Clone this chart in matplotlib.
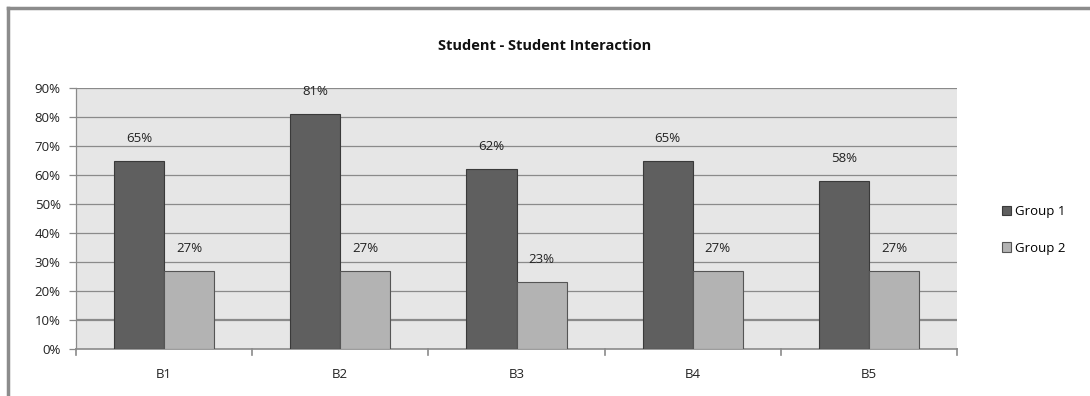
import numpy as np
import matplotlib.pyplot as plt
from matplotlib.patches import Rectangle
from matplotlib.lines import Line2D

categories = ['B1', 'B2', 'B3', 'B4', 'B5']
group1 = [65, 81, 62, 65, 58]
group2 = [27, 27, 23, 27, 27]
series_names = ['Group 1', 'Group 2']
yticks = [0, 10, 20, 30, 40, 50, 60, 70, 80, 90]

plt.rcParams['font.family'] = ['Open Sans', 'DejaVu Sans']

fig = plt.figure(figsize=(10.9, 3.96), dpi=100)
ax = fig.add_axes([76/1090, 1-349/396, 881/1090, 261/396])

# outer frame lines (top and left)
fig.add_artist(Line2D([8/1090, 1], [1-8/396, 1-8/396], color='#8c8c8c', lw=2.5,
                      transform=fig.transFigure))
fig.add_artist(Line2D([8/1090, 8/1090], [0, 1-8/396], color='#8c8c8c', lw=2.5,
                      transform=fig.transFigure))

x = np.arange(len(categories))
w = 0.284
dark, light = '#5f5f5f', '#b3b3b3'
b1 = ax.bar(x - w/2, group1, w, color=dark, edgecolor='#3a3a3a', lw=0.8, zorder=3)
b2 = ax.bar(x + w/2, group2, w, color=light, edgecolor='#555555', lw=0.8, zorder=3)

for bars, vals in ((b1, group1), (b2, group2)):
    for r, v in zip(bars, vals):
        ax.text(r.get_x() + r.get_width()/2, v + 5.5, f'{v}%', ha='center',
                va='bottom', fontsize=9.5, color='#222222')

ax.set_facecolor('#e6e6e6')
ax.set_xlim(-0.5, len(categories) - 0.5)
ax.set_ylim(0, 90)
ax.set_yticks(yticks)
ax.set_yticklabels([f'{t}%' for t in yticks], fontsize=9.5, color='#222222')
for t in yticks[1:]:
    ax.axhline(t, color='#8a8a8a', lw=1.6 if t == 10 else 0.9, zorder=1)

ax.set_xticks(x)
ax.set_xticklabels(categories, fontsize=9.5, color='#222222')
ax.tick_params(axis='x', length=0, pad=14)
ax.tick_params(axis='y', length=5, color='#8a8a8a', width=0.9, pad=6)
for b in np.arange(len(categories) + 1) - 0.5:
    ax.plot([b, b], [0, -2.2], color='#8a8a8a', lw=1.2, clip_on=False, zorder=4)

for s in ('top', 'right'):
    ax.spines[s].set_visible(False)
ax.spines['left'].set_color('#8a8a8a')
ax.spines['left'].set_linewidth(0.9)
ax.spines['bottom'].set_color('#8a8a8a')
ax.spines['bottom'].set_linewidth(1.2)

fig.text(545/1090, 1-46/396, 'Student - Student Interaction', ha='center', va='center',
         fontsize=10.5, fontweight='bold', color='#111111')

handles = [Rectangle((0, 0), 1, 1, facecolor=dark, edgecolor='#3a3a3a', lw=0.8),
           Rectangle((0, 0), 1, 1, facecolor=light, edgecolor='#555555', lw=0.8)]
fig.legend(handles, series_names, loc='center left', bbox_to_anchor=(990/1090, 1-230/396),
           frameon=False, fontsize=9.5, handlelength=0.7, handleheight=0.7,
           handletextpad=0.3, labelspacing=1.75)

plt.savefig('out.png', dpi=100)
